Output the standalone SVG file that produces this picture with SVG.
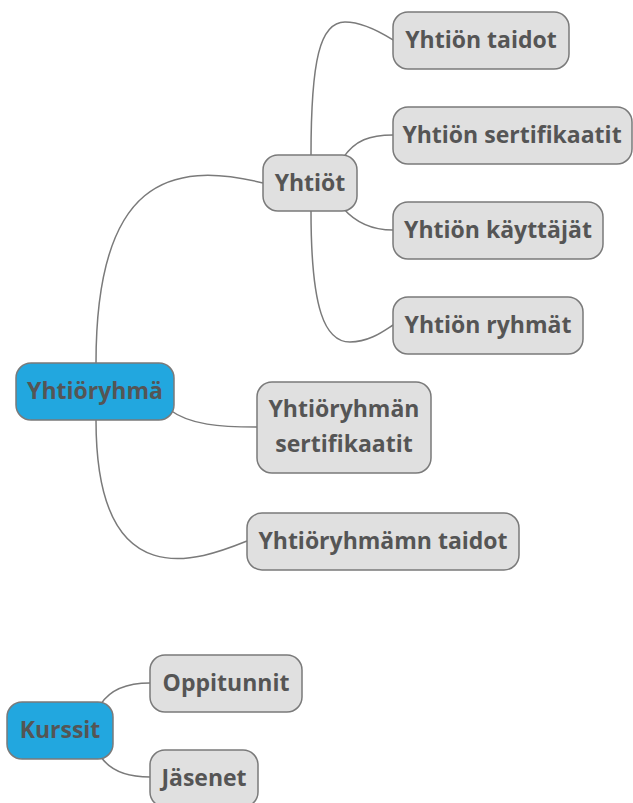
<svg xmlns="http://www.w3.org/2000/svg" width="633" height="803" viewBox="0 0 633 803">
<style>
.n rect{fill:#e0e0e0;stroke:#7a7a7a;stroke-width:1.5}
.r rect{fill:#22a7df}
text{font-family:"Open Sans","Noto Sans","DejaVu Sans",sans-serif;font-weight:bold;font-size:23px;fill:#555;text-anchor:middle}
.c path{fill:none;stroke:#7a7a7a;stroke-width:1.5}
</style>
<rect width="633" height="803" fill="#fff"/>
<g class="c" id="connectors">
<path d="M96,363 C96,180 170,160 263,183"/>
<path d="M170,410 C190,425 220,427 257,427"/>
<path d="M96,420 C96,600 200,560 247,541"/>
<path d="M311,155 C311,60 320,22 345,22 C365,22 385,35 393,40"/>
<path d="M343,158 C355,140 370,135 393,135"/>
<path d="M343,208 C355,222 370,230 393,230"/>
<path d="M311,211 C311,310 325,342 350,342 C370,342 385,330 393,325"/>
<path d="M101,704 C110,690 125,683 150,683"/>
<path d="M101,757 C110,770 125,777 150,777"/>
</g>
<g class="n r" id="yhtioryhma"><rect x="16" y="363" width="158" height="57" rx="15"/><text x="95" y="399">Yhtiöryhmä</text></g>
<g class="n" id="yhtiot"><rect x="263" y="155" width="94" height="56" rx="15"/><text x="310" y="191">Yhtiöt</text></g>
<g class="n" id="taidot"><rect x="393" y="12" width="176" height="57" rx="15"/><text x="481" y="48">Yhtiön taidot</text></g>
<g class="n" id="sertifikaatit"><rect x="393" y="107" width="239" height="57" rx="15"/><text x="512" y="143">Yhtiön sertifikaatit</text></g>
<g class="n" id="kayttajat"><rect x="393" y="202" width="210" height="57" rx="15"/><text x="498" y="238">Yhtiön käyttäjät</text></g>
<g class="n" id="ryhmat"><rect x="393" y="297" width="190" height="57" rx="15"/><text x="488" y="333">Yhtiön ryhmät</text></g>
<g class="n" id="ryhman-sertifikaatit"><rect x="257" y="382" width="174" height="91" rx="15"/><text x="344" y="417">Yhtiöryhmän</text><text x="344" y="452">sertifikaatit</text></g>
<g class="n" id="ryhman-taidot"><rect x="247" y="513" width="272" height="57" rx="15"/><text x="383" y="549">Yhtiöryhmämn taidot</text></g>
<g class="n r" id="kurssit"><rect x="7" y="702" width="106" height="57" rx="15"/><text x="60" y="738">Kurssit</text></g>
<g class="n" id="oppitunnit"><rect x="150" y="655" width="152" height="57" rx="15"/><text x="226" y="691">Oppitunnit</text></g>
<g class="n" id="jasenet"><rect x="150" y="750" width="108" height="57" rx="15"/><text x="204" y="786">Jäsenet</text></g>
</svg>
